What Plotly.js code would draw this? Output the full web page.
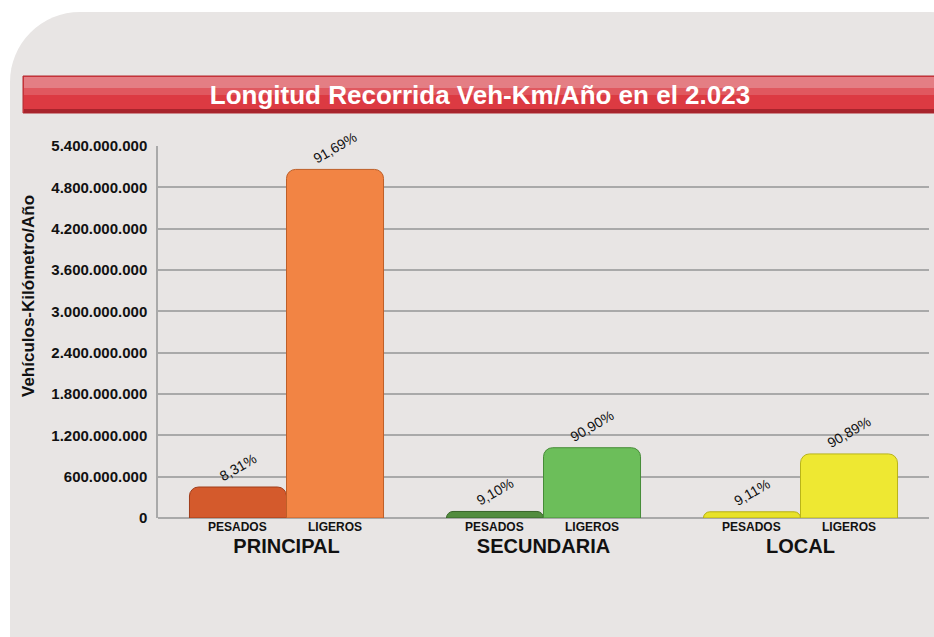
<!DOCTYPE html>
<html>
<head>
<meta charset="utf-8">
<script src="https://cdn.plot.ly/plotly-3.0.1.min.js"></script>
<style>
  html, body { margin: 0; padding: 0; background: #ffffff; }
  #panel { position: absolute; left: 10px; top: 12px; width: 990px; height: 700px;
           background: #e8e5e4; border-radius: 70px; }
  #chart { position: absolute; left: 0; top: 0; width: 934px; height: 637px; }
</style>
</head>
<body>
<div id="panel"></div>
<div id="chart"></div>
<script>
CHART = document.getElementById('chart');

// categorias y valores (veh-km/año)
var grupos = ['PRINCIPAL', 'SECUNDARIA', 'LOCAL'];
var pesados = [450000000, 95000000, 90000000];
var ligeros = [5060000000, 1020000000, 930000000];
var pctPesados = ['8,31%', '9,10%', '9,11%'];
var pctLigeros = ['91,69%', '90,90%', '90,89%'];
var yTicks = [0, 600000000, 1200000000, 1800000000, 2400000000, 3000000000,
              3600000000, 4200000000, 4800000000, 5400000000];

var colPesados = ['rgb(212,90,44)', 'rgb(82,140,62)', 'rgb(232,226,42)'];
var colLigeros = ['rgb(242,132,68)', 'rgb(108,190,90)', 'rgb(238,232,50)'];
var edgePesados = ['rgb(160,60,25)', 'rgb(55,100,40)', 'rgb(180,175,20)'];
var edgeLigeros = ['rgb(190,95,40)', 'rgb(70,140,55)', 'rgb(185,180,25)'];

var FAM = 'Liberation Sans, Arial, sans-serif';
var pctFont = {family: FAM, size: 14, color: '#111'};

var data = [{
    x: grupos,
    y: pesados,
    type: 'bar',
    name: 'PESADOS',
    text: pctPesados,
    textposition: 'outside',
    textangle: -30,
    textfont: pctFont,
    cliponaxis: false,
    hoverinfo: 'y',
    marker: {color: colPesados, cornerradius: 9, line: {color: edgePesados, width: 1}}
}, {
    x: grupos,
    y: ligeros,
    type: 'bar',
    name: 'LIGEROS',
    text: pctLigeros,
    textposition: 'outside',
    textangle: -30,
    textfont: pctFont,
    cliponaxis: false,
    hoverinfo: 'y',
    marker: {color: colLigeros, cornerradius: 9, line: {color: edgeLigeros, width: 1}}
}];

var bargap = 0.245;
var half = (1 - bargap) / 4;

// etiquetas PESADOS / LIGEROS bajo cada barra
var annotations = [];
grupos.forEach(function (g, i) {
    annotations.push({x: i - half, y: 0, xref: 'x', yref: 'paper', yanchor: 'top',
        yshift: 0, showarrow: false, text: '<b>PESADOS</b>',
        font: {family: FAM, size: 12, color: '#111'}});
    annotations.push({x: i + half, y: 0, xref: 'x', yref: 'paper', yanchor: 'top',
        yshift: 0, showarrow: false, text: '<b>LIGEROS</b>',
        font: {family: FAM, size: 12, color: '#111'}});
});
// titulo del eje y, algo por encima del centro como en el original
annotations.push({x: (28 - 158) / 771, y: (518 - 296) / 372, xref: 'paper', yref: 'paper',
    xanchor: 'center', yanchor: 'middle',
    showarrow: false, textangle: -90, text: '<b>Vehículos-Kilómetro/Año</b>',
    font: {family: FAM, size: 17, color: '#111'}});

var layout = {
    title: {
        text: '<b>Longitud Recorrida Veh-Km/Año en el 2.023</b>',
        font: {family: FAM, size: 26, color: '#ffffff'},
        x: (480 - 158) / 771, xref: 'paper', xanchor: 'center',
        y: 1 - 95 / 637, yref: 'container', yanchor: 'middle'
    },
    separators: ',.',
    barmode: 'group',
    bargap: bargap,
    bargroupgap: 0,
    showlegend: false,
    paper_bgcolor: 'rgba(0,0,0,0)',
    plot_bgcolor: 'rgba(0,0,0,0)',
    margin: {t: 146, b: 119, l: 158, r: 5},
    xaxis: {
        type: 'category',
        range: [-0.5, 2.5],
        showgrid: false,
        showline: false,
        zeroline: false,
        ticks: 'outside',
        ticklen: 10,
        tickcolor: 'rgba(0,0,0,0)',
        tickfont: {family: FAM, size: 20, color: '#111', weight: 'bold'},
        tickvals: grupos,
        ticktext: grupos
    },
    yaxis: {
        range: [0, 5400000000],
        tickvals: yTicks,
        tickformat: ',d',
        tickfont: {family: FAM, size: 15, color: '#111', weight: 'bold'},
        ticks: 'outside',
        ticklen: 6,
        tickcolor: 'rgba(0,0,0,0)',
        showgrid: true,
        gridcolor: '#a9a9a9',
        gridwidth: 1.5,
        showline: true,
        linecolor: '#a9a9a9',
        linewidth: 1.5,
        zeroline: true,
        zerolinecolor: '#a9a9a9',
        zerolinewidth: 1.5
    },
    annotations: annotations,
    shapes: [
        // barra roja del titulo
        {type: 'rect', xref: 'paper', yref: 'paper', layer: 'below',
         x0: (23 - 158) / 771, x1: (940 - 158) / 771,
         y0: (637 - 119 - 113) / 372, y1: (637 - 119 - 76) / 372,
         fillcolor: '#dc3a42', line: {color: '#b02a30', width: 1}},
        {type: 'rect', xref: 'paper', yref: 'paper', layer: 'below',
         x0: (24 - 158) / 771, x1: (940 - 158) / 771,
         y0: (637 - 119 - 88) / 372, y1: (637 - 119 - 77) / 372,
         fillcolor: '#e47e84', line: {width: 0}},
        {type: 'rect', xref: 'paper', yref: 'paper', layer: 'below',
         x0: (24 - 158) / 771, x1: (940 - 158) / 771,
         y0: (637 - 119 - 95) / 372, y1: (637 - 119 - 88) / 372,
         fillcolor: '#e0585f', line: {width: 0}},
        {type: 'rect', xref: 'paper', yref: 'paper', layer: 'below',
         x0: (24 - 158) / 771, x1: (940 - 158) / 771,
         y0: (637 - 119 - 113) / 372, y1: (637 - 119 - 109) / 372,
         fillcolor: '#a8242c', line: {width: 0}}
    ]
};

var config = {responsive: false, displayModeBar: false};
Plotly.newPlot(CHART, data, layout, config);
</script>
</body>
</html>
